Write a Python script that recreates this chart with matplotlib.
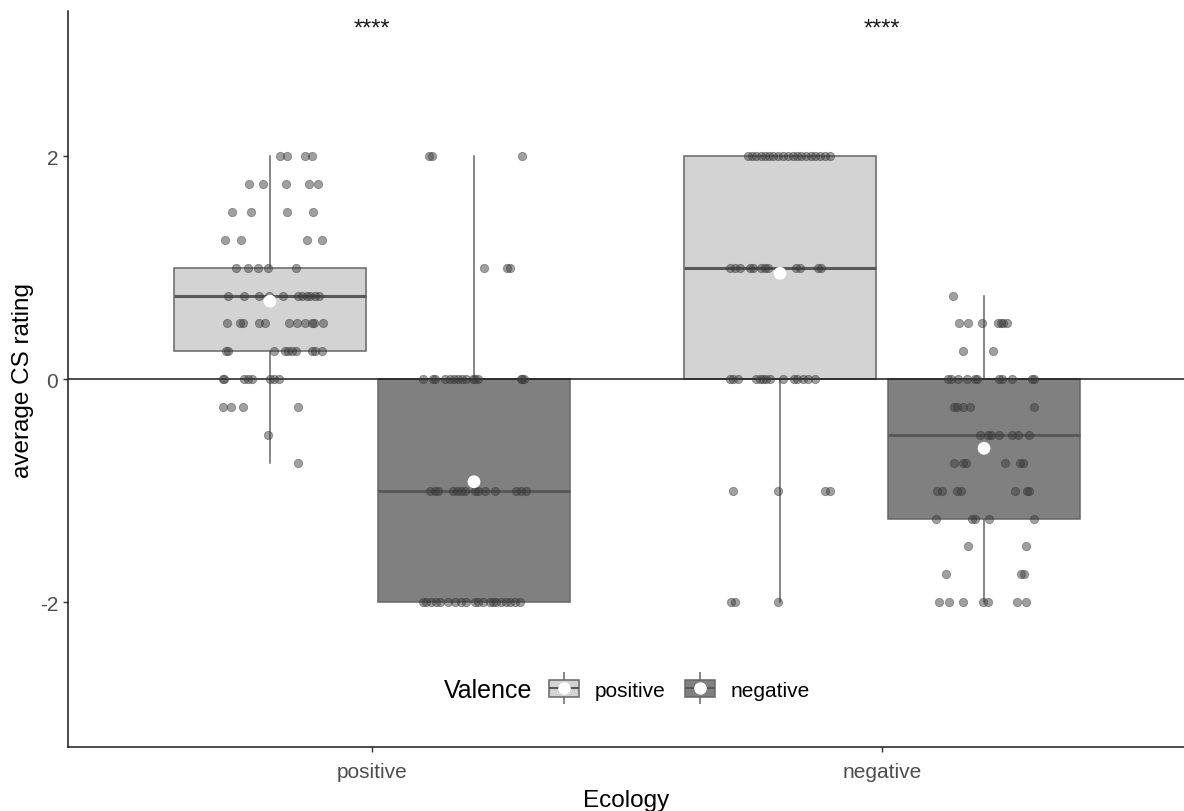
import matplotlib
matplotlib.use("Agg")
import matplotlib.pyplot as plt
from matplotlib.patches import Rectangle
from matplotlib.lines import Line2D
from matplotlib.legend_handler import HandlerTuple

plt.rcParams['font.family'] = ['Liberation Sans', 'DejaVu Sans']
plt.rcParams['axes.unicode_minus'] = False

# categories
ecology = ['positive', 'negative']
valence = ['positive', 'negative']

# box stats per group: (ecology pos, valence pos), (pos, neg), (neg, pos), (neg, neg)
q1 = [0.25, -2.0, 0.0, -1.25]
med = [0.75, -1.0, 1.0, -0.5]
q3 = [1.0, 0.0, 2.0, 0.0]
whislo = [-0.75, -2.0, -2.0, -2.0]
whishi = [2.0, 2.0, 2.0, 0.75]
means = [0.70, -0.92, 0.95, -0.62]

# jittered raw points: (rating, horizontal jitter offsets)
pts_pos_pos = [
    (2.0, [0.020, 0.033, 0.069, 0.082]),
    (1.75, [-0.041, -0.014, 0.031, 0.076, 0.094]),
    (1.5, [-0.075, -0.037, 0.033, 0.084]),
    (1.25, [-0.088, -0.057, 0.073, 0.102]),
    (1.0, [-0.067, -0.043, -0.024, -0.004, 0.051]),
    (0.75, [-0.082, -0.051, -0.022, -0.002, 0.025, 0.055, 0.063, 0.073, 0.078, 0.088, 0.096]),
    (0.5, [-0.084, -0.059, -0.053, -0.022, -0.010, 0.037, 0.053, 0.069, 0.082, 0.086, 0.104]),
    (0.25, [-0.086, -0.082, 0.008, 0.029, 0.035, 0.043, 0.051, 0.082, 0.088, 0.102]),
    (0.0, [-0.092, -0.090, -0.051, -0.043, -0.035, 0.0, 0.008, 0.018]),
    (-0.25, [-0.092, -0.076, -0.053, 0.055]),
    (-0.5, [-0.004]),
    (-0.75, [0.055]),
]
pts_pos_neg = [
    (2.0, [-0.088, -0.082, 0.094]),
    (1.0, [0.020, 0.065, 0.071]),
    (0.0, [-0.100, -0.080, -0.076, -0.057, -0.047, -0.039, -0.031, -0.024, -0.016,
           -0.002, 0.002, 0.008, 0.092, 0.094, 0.098]),
    (-1.0, [-0.086, -0.076, -0.071, -0.041, -0.033, -0.025, -0.018, 0.002, 0.008,
            0.022, 0.041, 0.082, 0.092, 0.102]),
    (-2.0, [-0.100, -0.094, -0.084, -0.075, -0.067, -0.051, -0.037, -0.025, -0.016, 0.002,
            0.008, 0.018, 0.031, 0.037, 0.043, 0.053, 0.063, 0.071, 0.080, 0.090]),
]
pts_neg_pos = [
    (2.0, [-0.063, -0.055, -0.047, -0.037, -0.029, -0.022, -0.014, -0.004, 0.006, 0.016,
           0.025, 0.033, 0.041, 0.051, 0.061, 0.069, 0.078, 0.088, 0.098]),
    (1.0, [-0.098, -0.088, -0.078, -0.059, -0.053, -0.037, -0.029, -0.024, 0.031, 0.039,
           0.075, 0.080]),
    (0.0, [-0.098, -0.092, -0.082, -0.047, -0.039, -0.033, -0.027, -0.020, 0.006, 0.027,
           0.033, 0.045, 0.055, 0.069]),
    (-1.0, [-0.092, -0.004, 0.088, 0.098]),
    (-2.0, [-0.096, -0.088, -0.004]),
]
pts_neg_neg = [
    (0.75, [-0.061]),
    (0.5, [-0.049, -0.031, -0.004, 0.028, 0.033, 0.037, 0.045]),
    (0.25, [-0.041, 0.018]),
    (0.0, [-0.071, -0.065, -0.051, -0.033, -0.018, -0.014, 0.029, 0.035, 0.055, 0.094, 0.098]),
    (-0.25, [-0.059, -0.053, -0.041, -0.027, 0.098]),
    (-0.5, [-0.008, 0.008, 0.014, 0.029, 0.055, 0.067, 0.088]),
    (-0.75, [-0.059, -0.041, -0.035, 0.041, 0.071, 0.077]),
    (-1.0, [-0.092, -0.082, -0.053, -0.045, 0.061, 0.084, 0.088]),
    (-1.25, [-0.094, -0.023, -0.018, 0.010, 0.098]),
    (-1.5, [-0.031, 0.082]),
    (-1.75, [-0.074, 0.073, 0.079]),
    (-2.0, [-0.088, -0.069, -0.041, -0.002, 0.008, 0.065, 0.082]),
]
points = [pts_pos_pos, pts_pos_neg, pts_neg_pos, pts_neg_neg]
signif = ['****', '****']

fills = {'positive': '#D3D3D3', 'negative': '#808080'}
edge = '#666666'

fig = plt.figure(figsize=(11.84, 8.12), dpi=100)
ax = fig.add_axes([0.0574, 0.0788, 0.9426, 0.906])

positions = []
colors = []
for i, eco in enumerate(ecology):
    for j, val in enumerate(valence):
        positions.append(i + 1 + (-0.2 if j == 0 else 0.2))
        colors.append(fills[val])

stats = []
for k in range(4):
    stats.append({'q1': q1[k], 'med': med[k], 'q3': q3[k], 'whislo': whislo[k],
                  'whishi': whishi[k], 'mean': means[k], 'fliers': []})

bp = ax.bxp(stats, positions=positions, widths=0.375, patch_artist=True,
            showcaps=False, showfliers=False, showmeans=False,
            boxprops=dict(edgecolor=edge, linewidth=1.1),
            whiskerprops=dict(color=edge, linewidth=1.1),
            medianprops=dict(color='#595959', linewidth=2.2))
for patch, c in zip(bp['boxes'], colors):
    patch.set_facecolor(c)

ax.axhline(0, color='#1a1a1a', linewidth=1.1, zorder=2.5)

for k, grp in enumerate(points):
    xs, ys = [], []
    for y, offs in grp:
        for d in offs:
            xs.append(positions[k] + d)
            ys.append(y)
    ax.scatter(xs, ys, s=36, color='#3a3a3a', alpha=0.48, linewidths=0.6,
               edgecolors='#3a3a3a', zorder=3)

ax.scatter(positions, means, s=85, color='white', edgecolors='none', zorder=4)

for i, lab in enumerate(signif):
    ax.text(i + 1, 3.15, lab, ha='center', va='center', fontsize=17, color='#1a1a1a')

ax.set_xlim(0.404, 2.592)
ax.set_ylim(-3.3, 3.3)
ax.set_xticks([1, 2])
ax.set_xticklabels(ecology)
ax.set_yticks([-2, 0, 2])
ax.tick_params(axis='both', colors='#333333', labelcolor='#4d4d4d', labelsize=15,
               length=3.5, width=1)
ax.tick_params(axis='x', pad=7)
ax.set_xlabel('Ecology', fontsize=17.5, labelpad=6)
ax.set_ylabel('average CS rating', fontsize=17.5, labelpad=4)
for s in ['top', 'right']:
    ax.spines[s].set_visible(False)
for s in ['left', 'bottom']:
    ax.spines[s].set_color('#1a1a1a')
    ax.spines[s].set_linewidth(1.1)

# legend
handles = []
for val in valence:
    whisk = Line2D([], [], linestyle='none', marker='|', markersize=23,
                   markeredgecolor=edge, markeredgewidth=1.1)
    box = Rectangle((0, 0), 1, 1, facecolor=fills[val], edgecolor=edge, linewidth=1.1)
    midl = Line2D([], [], linestyle='none', marker='_', markersize=21,
                  markeredgecolor='#595959', markeredgewidth=1.5)
    dot = Line2D([], [], linestyle='none', marker='o', markersize=9,
                 markerfacecolor='white', markeredgecolor='none')
    handles.append((whisk, box, midl, dot))
ax.legend(handles, valence, ncol=2, loc='center left', bbox_to_anchor=(0.431, 0.0774),
          frameon=False, fontsize=15, borderpad=0, borderaxespad=0,
          handlelength=1.44, handleheight=0.87, handletextpad=0.77, columnspacing=0.91,
          handler_map={tuple: HandlerTuple(ndivide=1)})
ax.text(0.4158, 0.0774, 'Valence', transform=ax.transAxes, ha='right', va='center',
        fontsize=18)

fig.savefig('out.png', dpi=100)
